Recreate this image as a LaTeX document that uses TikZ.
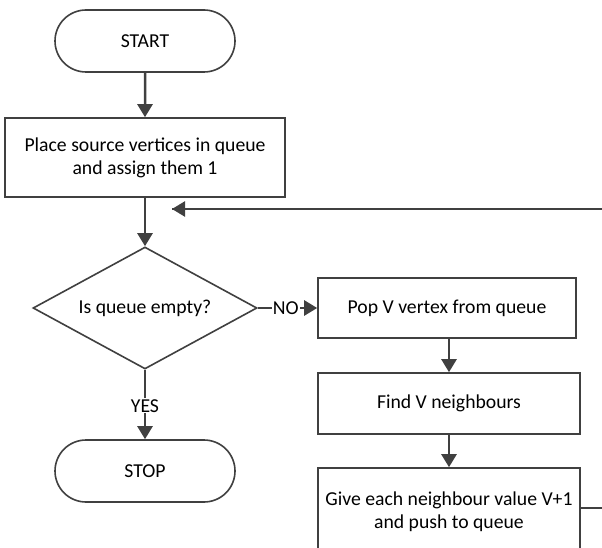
\documentclass[tikz,border=0pt]{standalone}
\usepackage{fontspec}
\setmainfont{Carlito}
\usetikzlibrary{shapes.geometric,shapes.misc,arrows.meta}
\definecolor{linegray}{HTML}{404040}
\tikzset{
  base/.style={draw=linegray, line width=1.6pt, align=center, inner sep=0pt,
    font=\fontsize{19.7}{23}\selectfont, text=black},
  terminal/.style={base, rounded rectangle, minimum width=180pt, minimum height=62pt},
  procbox/.style={base, rectangle},
  decision/.style={base, diamond, aspect=1.836, minimum width=224pt, minimum height=122pt},
  conn/.style={draw=linegray, line width=2.5pt, -{Triangle[length=13pt,width=15pt]}},
  plainconn/.style={draw=linegray, line width=2pt},
  lbl/.style={fill=white, inner sep=1pt, font=\fontsize{19.7}{23}\selectfont, text=black}
}
\begin{document}
\begin{tikzpicture}[x=1pt,y=-1pt]
\useasboundingbox (0,0) rectangle (602,548);
\clip (0,0) rectangle (602,548);
\fill[white] (0,0) rectangle (602,548);

\node[terminal] (start) at (145,41) {START};
\node[procbox, minimum width=280pt, minimum height=79pt] (place) at (145,157.5)
  {Place source vertices in queue\\and assign them 1};
\node[decision] (dia) at (145,308) {Is queue empty?};
\node[procbox, minimum width=258pt, minimum height=60pt] (pop) at (447,308)
  {Pop V vertex from queue};
\node[procbox, minimum width=262pt, minimum height=61pt] (find) at (449,403.5)
  {Find V neighbours};
\node[procbox, minimum width=262pt, minimum height=88pt] (give) at (449,512)
  {Give each neighbour value V+1\\and push to queue};
\node[terminal] (stop) at (145,471) {STOP};

\coordinate (loopin) at (172,209);
\coordinate (loopA) at (630,508);
\coordinate (loopB) at (630,209);

\draw[conn] (start) -- (place);
\draw[conn] (place) -- (dia);
\draw[conn] (dia.east) -- node[lbl, pos=0.47] {NO} (pop.west);
\draw[conn] (pop.south -| find.north) -- (find);
\draw[conn] (find) -- (give);
\draw[conn] (dia.south) -- node[lbl, pos=0.52] {YES} (stop.north);
\draw[plainconn] (give.east |- loopA) -- (loopA) -- (loopB) -- (loopin);
\draw[conn] (loopB) -- (loopin);
\end{tikzpicture}
\end{document}
